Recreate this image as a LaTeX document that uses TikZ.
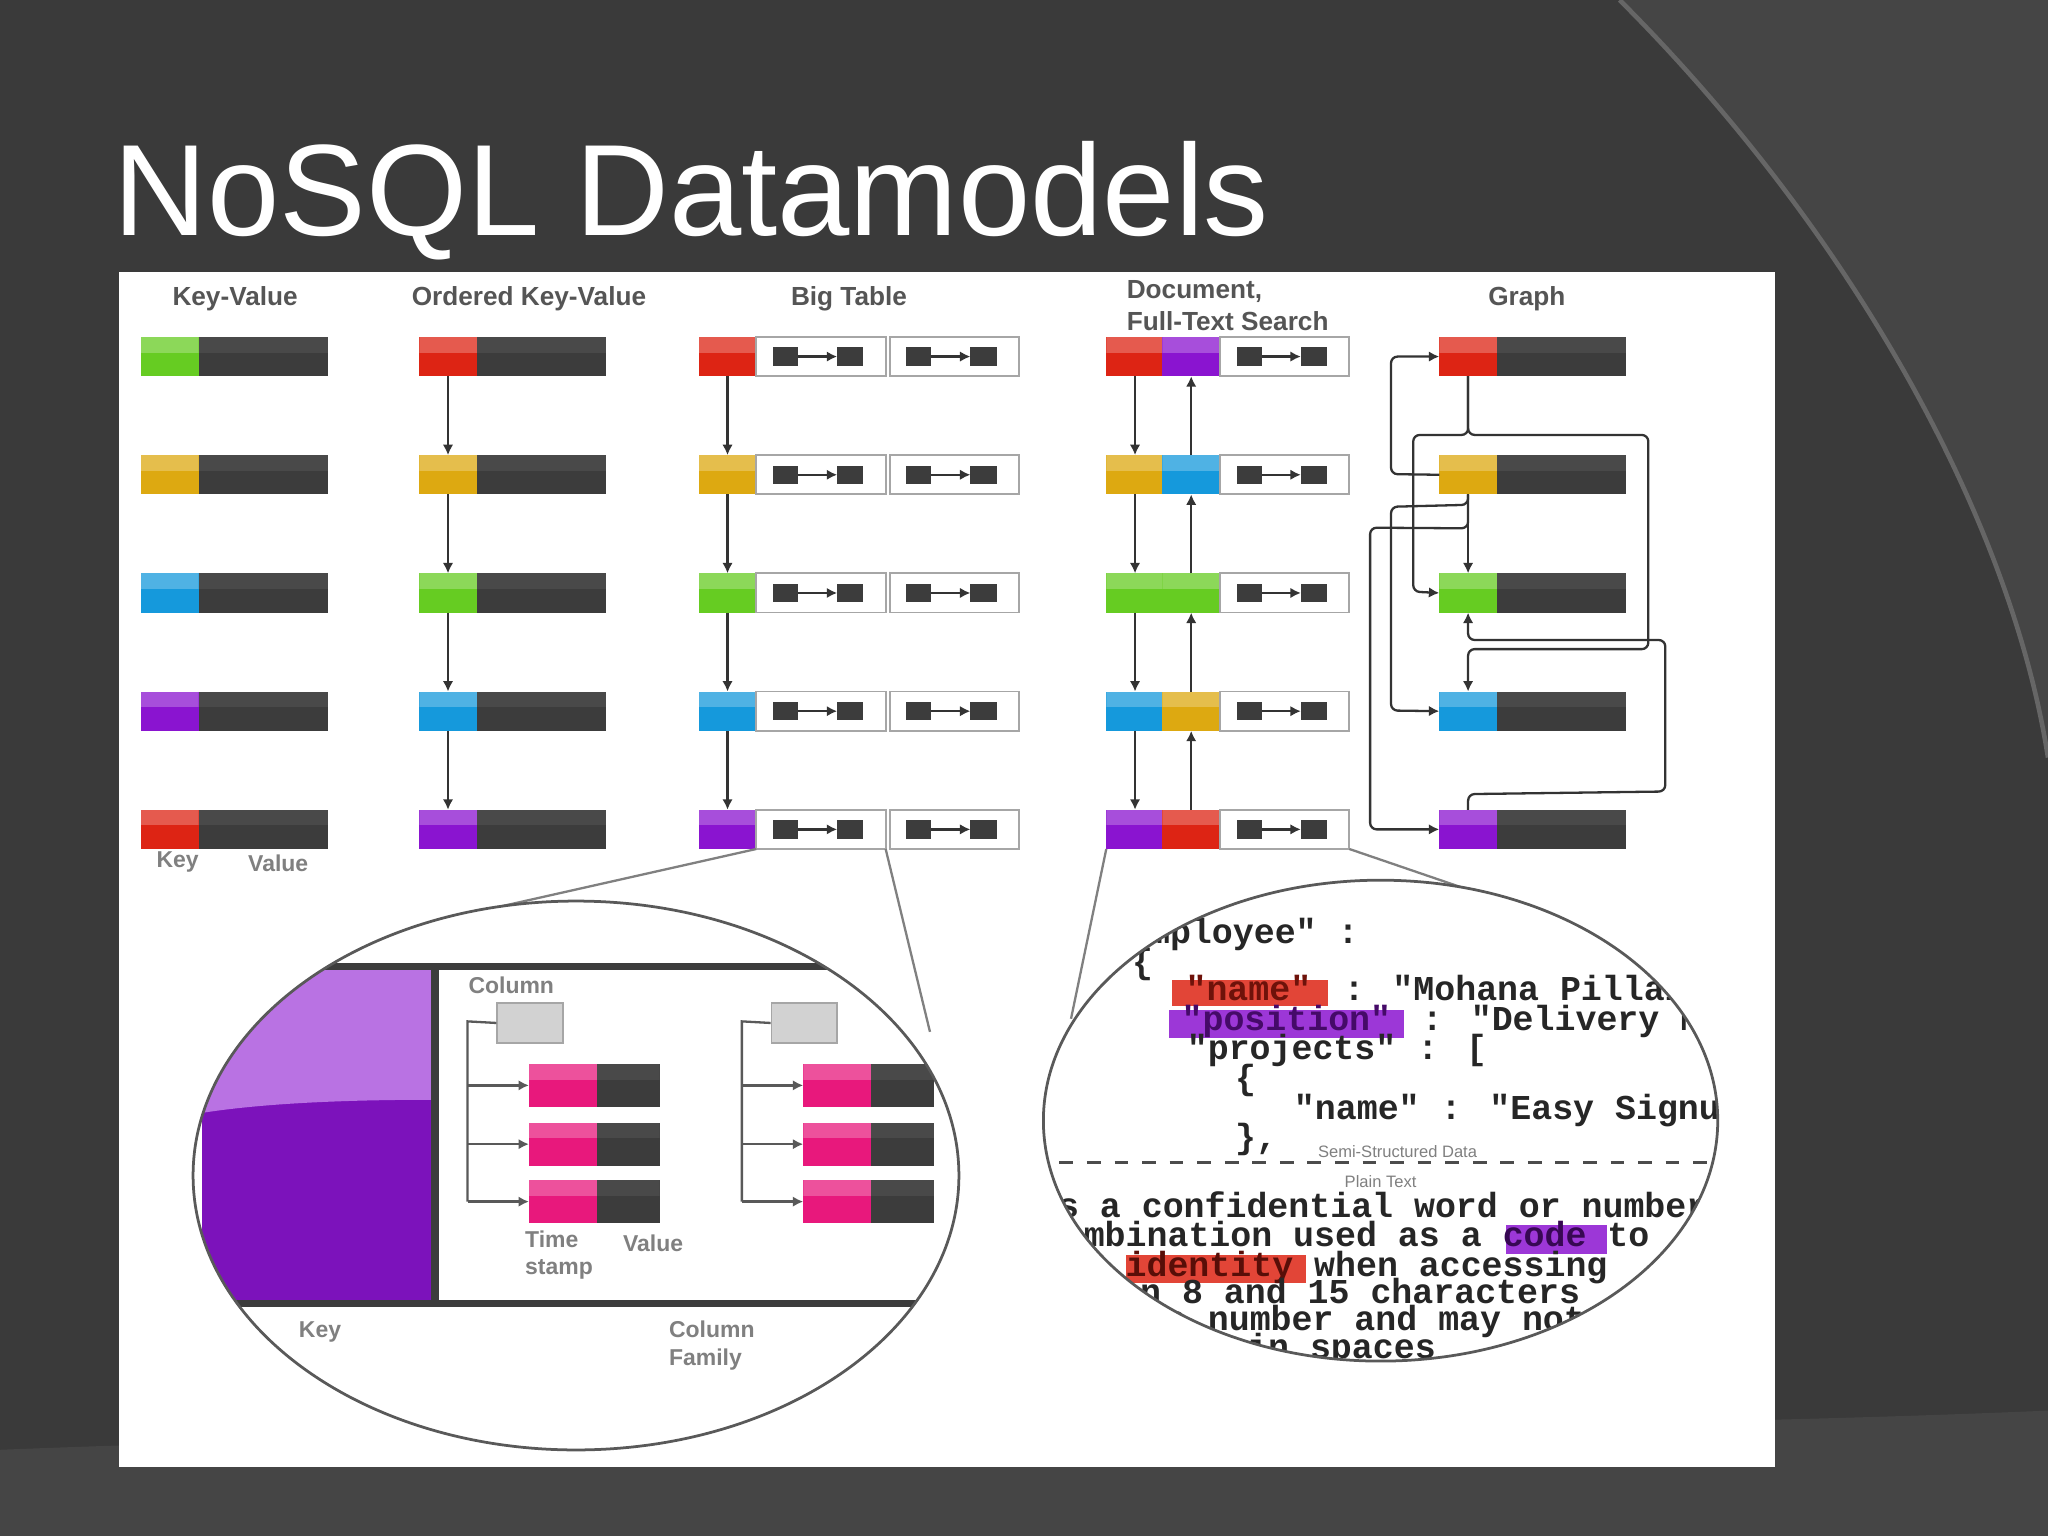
\documentclass[tikz,border=0pt]{standalone}
\usepackage{fontspec}
\setmainfont{Liberation Sans}
\newfontfamily\monob{Liberation Mono}[BoldFont=* Bold]
\usetikzlibrary{arrows.meta}
\definecolor{bgd}{HTML}{3A3A3A}
\definecolor{bgl}{HTML}{454545}
\definecolor{valc}{HTML}{3C3C3C}
\definecolor{kgreen}{HTML}{66CC22}
\definecolor{kyellow}{HTML}{DDA911}
\definecolor{kblue}{HTML}{1599DC}
\definecolor{kpurple}{HTML}{8A14D0}
\definecolor{kred}{HTML}{DD2414}
\definecolor{kpink}{HTML}{E8187C}
\definecolor{hdr}{HTML}{555555}
\tikzset{
 keyb/.style={minimum width=0.44cm,minimum height=0.30cm,inner sep=0,outer sep=0,anchor=west,
   path picture={\fill[white,opacity=.25] (path picture bounding box.north west) rectangle ([yshift=-0.12cm]path picture bounding box.north east);}},
 valb/.style={fill=valc,minimum width=0.99cm,minimum height=0.30cm,inner sep=0,outer sep=0,anchor=west,
   path picture={\fill[white,opacity=.07] (path picture bounding box.north west) rectangle ([yshift=-0.12cm]path picture bounding box.north east);}},
 boxb/.style={draw=gray!70,fill=white,minimum width=0.99cm,minimum height=0.30cm,inner sep=0,outer sep=0,anchor=west},
 arr/.style={draw=gray!40!black,line width=0.5pt,-{Latex[length=0.8mm,width=0.8mm]}},
 ln/.style={draw=gray!40!black,line width=0.5pt},
 hd/.style={font=\fontsize{5.7}{6.8}\selectfont\bfseries,text=hdr,inner sep=0},
 lb/.style={font=\fontsize{5}{6}\selectfont\bfseries,text=gray,inner sep=0},
 mono/.style={font=\monob\bfseries\fontsize{7.6}{8}\selectfont,inner sep=0,anchor=base west,text=black!85},
 tiny/.style={font=\fontsize{3.6}{4}\selectfont,text=gray,inner sep=0},
}
\newcommand\minib[2]{%
 \fill[valc] ({#1+14},{#2-7}) rectangle ++(19,14);
 \fill[valc] ({#1+63},{#2-7}) rectangle ++(20,14);
 \draw[arr] ({#1+33},{#2}) -- ({#1+63},{#2});}
\begin{document}
\begin{tikzpicture}[x=0.01cm,y=-0.01cm]
\useasboundingbox (0,0) rectangle (1568,1176);
\fill[bgd] (0,0) rectangle (1568,1176);
\fill[bgl] (1240,0) .. controls (1420,180) and (1540,400) .. (1568,580) -- (1568,0) -- cycle;
\fill[bgl] (0,1110) .. controls (500,1090) and (1100,1100) .. (1568,1080) -- (1568,1176) -- (0,1176) -- cycle;
\draw[black!60,line width=1pt] (1240,0) .. controls (1420,180) and (1540,400) .. (1568,580);
\node[anchor=base west,inner sep=0,text=white,font=\fontsize{28.3}{33}\selectfont] (title) at (86,180) {NoSQL Datamodels};
\fill[white] (91,208) rectangle (1359,1123);
% headers
\node[hd] (h1) at (180,229) {Key-Value};
\node[hd] (h2) at (405,229) {Ordered Key-Value};
\node[hd] (h3) at (650,229) {Big Table};
\node[hd,anchor=west,align=left] (h4) at (862,234) {Document,\\Full-Text Search};
\node[hd] (h5) at (1169,229) {Graph};
% Key-Value column
\foreach \c [count=\i] in {kgreen,kyellow,kblue,kpurple,kred}{
  \node[keyb,fill=\c] (k\i) at (108,{273+90.5*(\i-1)}) {};
  \node[valb] (kv\i) at (k\i.east) {};
}
\node[lb] (lk) at (136,660) {Key};
\node[lb] (lv) at (213,661) {Value};
% Ordered KV, Big Table, Document, Graph
\foreach \c [count=\i] in {kred,kyellow,kgreen,kblue,kpurple}{
  \pgfmathsetmacro\yy{273+90.5*(\i-1)}
  \node[keyb,fill=\c] (o\i) at (321,\yy) {};
  \node[valb] (ov\i) at (o\i.east) {};
  \node[keyb,fill=\c] (b\i) at (535,\yy) {};
  \node[boxb] (bb\i) at (b\i.east) {};
  \node[boxb] (bc\i) at ([xshift=0.03cm]bb\i.east) {};
  \minib{578}{\yy}
  \minib{680}{\yy}
  \node[keyb,fill=\c] (d\i) at (847,\yy) {};
  \node[keyb,fill=\c] (g\i) at (1102,\yy) {};
  \node[valb] (gv\i) at (g\i.east) {};
}
\foreach \c [count=\i] in {kpurple,kblue,kgreen,kyellow,kred}{
  \pgfmathsetmacro\yy{273+90.5*(\i-1)}
  \node[keyb,fill=\c] (e\i) at (890,\yy) {};
  \node[boxb] (eb\i) at (e\i.east) {};
  \minib{933}{\yy}
}
\foreach \i [evaluate=\i as \j using int(\i+1)] in {1,...,4}{
  \draw[arr] (o\i.south) -- (o\j.north);
  \draw[arr] (b\i.south) -- (b\j.north);
  \draw[arr] (d\i.south) -- (d\j.north);
  \draw[arr] (e\j.north) -- (e\i.south);
}
% Graph edges
\draw[arr,rounded corners=0.05cm] (g2.west) -- (1065,363) -- (1065,273) -- (g1.west);
\draw[arr,rounded corners=0.05cm] (g1.south) -- ++(0,45) -- (1082,333) -- (1082,453) -- (g3.west);
\draw[arr,rounded corners=0.05cm] (g1.south) -- ++(0,45) -- (1262,333) -- (1262,497) -- (1124,497) -- (g4.north);
\draw[arr] (g2.south) -- (g3.north);
\draw[arr,rounded corners=0.05cm] (g2.south) -- ++(0,8) -- (1065,388) -- (1065,544) -- (g4.west);
\draw[arr,rounded corners=0.05cm] (g2.south) -- ++(0,26) -- (1049,404) -- (1049,635) -- (g5.west);
\draw[arr,rounded corners=0.05cm] (g5.north) -- ++(0,-12) -- (1275,606) -- (1275,490) -- (1124,490) -- (g3.south);
% lens lines
\draw[ln,gray] (bb5.south west) -- (370,697);
\draw[ln,gray] (bb5.south east) -- (712,790);
\draw[ln,gray] (d5.south west) -- (820,780);
\draw[ln,gray] (eb5.south east) -- (1150,690);
% left lens
\fill[white] (441,900) ellipse [x radius=2.93cm,y radius=2.10cm];
\begin{scope}
\clip (441,900) ellipse [x radius=2.93cm,y radius=2.10cm];
\fill[kpurple!90!black] (155,740) rectangle (333,998);
\fill[kpurple!60!white] (155,740) -- (333,740) -- (333,842) .. controls (260,842) and (200,845) .. (155,852) -- cycle;
\draw[valc,line width=1.6pt] (150,740) -- (745,740);
\draw[valc,line width=1.6pt] (150,998) -- (745,998);
\draw[valc,line width=1.6pt] (333,740) -- (333,998);
\foreach \x/\t/\p in {380/358/405,590/568/615}{
  \node[draw=gray!70,fill=gray!35,minimum width=0.50cm,minimum height=0.31cm,inner sep=0,anchor=north west] (sq\x) at (\x,767) {};
  \draw[ln,gray!70!black] (sq\x.west) -- (\t,782) -- (\t,920);
  \foreach \yy in {831,876,920}{
    \node[keyb,fill=kpink,minimum width=0.52cm,minimum height=0.33cm] (pe\x\yy) at (\p,\yy) {};
    \node[valb,minimum width=0.48cm,minimum height=0.33cm] (pv\x\yy) at (pe\x\yy.east) {};
    \draw[arr,gray!70!black] (\t,\yy) -- (pe\x\yy.west);
  }
}
\node[lb,anchor=west,align=left] (cl) at (358,754) {Column};
\node[lb,align=left] (ts) at (428,961) {Time\\stamp};
\node[lb] (vl) at (500,952) {Value};
\node[lb] (kl) at (245,1020) {Key};
\node[lb,align=left] (cf) at (545,1030) {Column\\Family};
\end{scope}
\draw[gray!70!black,line width=0.6pt] (441,900) ellipse [x radius=2.93cm,y radius=2.10cm];
% right lens
\fill[white] (1057,858) ellipse [x radius=2.58cm,y radius=1.84cm];
\begin{scope}
\clip (1057,858) ellipse [x radius=2.58cm,y radius=1.84cm];
\fill[kred!85] (897,750) rectangle (1017,770);
\fill[kpurple!85] (895,773) rectangle (1075,795);
\fill[kpurple!85] (1153,938) rectangle (1230,960);
\fill[kred!85] (862,961) rectangle (1000,982);
\node[mono] (m1) at (847,722) {"employee" :};
\node[mono] (m2) at (866,745) {\{};
\node[mono,text=kred!50!black] (m3) at (907,766) {"name"};
\node[mono] (m3b) at (1028,766) {: "Mohana Pillai",};
\node[mono,text=kpurple!50!black] (m4) at (904,789) {"position"};
\node[mono] (m4b) at (1088,789) {: "Delivery Manager",};
\node[mono] (m5) at (908,811) {"projects" : [};
\node[mono] (m6) at (945,834) {\{};
\node[mono] (m7) at (990,857) {"name" : "Easy Signup"};
\node[mono] (m8) at (945,879) {\},};
\node[tiny] (ss) at (1070,882) {Semi-Structured Data};
\draw[gray!60!black,dashed,line width=0.5pt] (790,890) -- (1330,890);
\node[tiny] (pt) at (1057,905) {Plain Text};
\node[mono] (p1) at (649,932) {Password is a confidential word or number};
\node[mono] (p2) at (797,954) {combination used as a \textcolor{kpurple!40!black}{code} to};
\node[mono] (p3) at (813,977) {or \textcolor{kred!40!black}{identity} when accessing};
\node[mono] (p4) at (776,998) {between 8 and 15 characters};
\node[mono] (p5) at (892,1019) {a number and may not};
\node[mono] (p6) at (874,1040) {contain spaces};
\end{scope}
\draw[gray!70!black,line width=0.6pt] (1057,858) ellipse [x radius=2.58cm,y radius=1.84cm];
\end{tikzpicture}
\end{document}
